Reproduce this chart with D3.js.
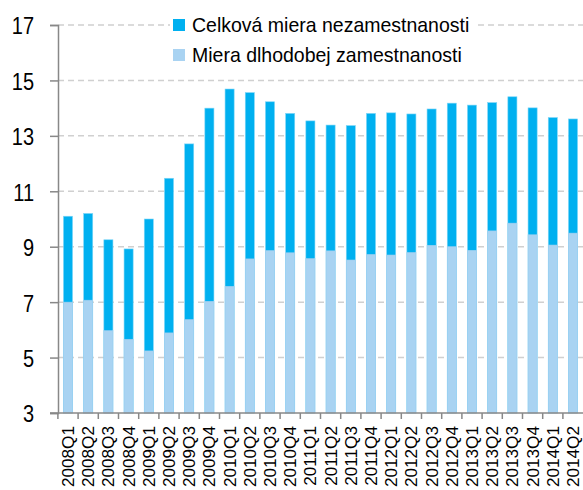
<!DOCTYPE html>
<html>
<head>
<meta charset="utf-8">
<script src="https://cdn.jsdelivr.net/npm/d3@7"></script>
<style>
  body { margin: 0; background: #fff; }
  text { font-family: "Liberation Sans", Arial, sans-serif; fill: #000; }
</style>
</head>
<body>
<script>
// chart values
var quarters = ["2008Q1","2008Q2","2008Q3","2008Q4","2009Q1","2009Q2","2009Q3","2009Q4",
  "2010Q1","2010Q2","2010Q3","2010Q4","2011Q1","2011Q2","2011Q3","2011Q4",
  "2012Q1","2012Q2","2012Q3","2012Q4","2013Q1","2013Q2","2013Q3","2013Q4",
  "2014Q1","2014Q2"];
var totalRate = [10.1, 10.2, 9.25, 8.92, 10.0, 11.47, 12.71, 14.0,
  14.69, 14.56, 14.23, 13.81, 13.54, 13.39, 13.37, 13.81,
  13.83, 13.79, 13.97, 14.18, 14.11, 14.2, 14.41, 14.01,
  13.66, 13.61];
var longTermRate = [7.0, 7.07, 5.97, 5.66, 5.24, 5.89, 6.37, 7.03,
  7.57, 8.56, 8.86, 8.78, 8.57, 8.85, 8.52, 8.72,
  8.7, 8.79, 9.05, 9.0, 8.87, 9.57, 9.85, 9.43,
  9.06, 9.49];
var yTicks = [3, 5, 7, 9, 11, 13, 15, 17];
var seriesNames = ["Celková miera nezamestnanosti", "Miera dlhodobej zamestnanosti"];
var seriesColors = ["#00b0f0", "#a9d3f2"];

var svgWidth = 583;
var svgHeight = 490;
var margin = {top: 25, right: 0, bottom: 77, left: 58};

var svg = d3.select("body")
    .append("svg")
    .attr("width", svgWidth)
    .attr("height", svgHeight);

var xScale = d3.scaleBand()
    .domain(quarters)
    .range([margin.left, svgWidth - margin.right])
    .paddingInner(0.55)
    .paddingOuter(0.27);

var yScale = d3.scaleLinear()
    .domain([3, 17])
    .range([svgHeight - margin.bottom, margin.top]);

// dashed grid lines
svg.append("g")
    .attr("class", "grid")
    .selectAll("line")
    .data(yTicks.slice(1))
    .enter()
    .append("line")
    .attr("x1", margin.left)
    .attr("x2", svgWidth)
    .attr("y1", d => yScale(d))
    .attr("y2", d => yScale(d))
    .attr("stroke", "#d0d0d0")
    .attr("stroke-width", 1.5)
    .attr("stroke-dasharray", "6,4");

// total bars behind, long-term bars in front
svg.append("g")
    .selectAll("rect")
    .data(quarters)
    .enter()
    .append("rect")
    .attr("x", d => xScale(d))
    .attr("width", xScale.bandwidth())
    .attr("y", (d, i) => yScale(totalRate[i]))
    .attr("height", (d, i) => yScale(3) - yScale(totalRate[i]))
    .attr("fill", seriesColors[0])
    .attr("stroke", "#7fd6f7")
    .attr("stroke-width", 0.6);

svg.append("g")
    .selectAll("rect")
    .data(quarters)
    .enter()
    .append("rect")
    .attr("x", d => xScale(d))
    .attr("width", xScale.bandwidth())
    .attr("y", (d, i) => yScale(longTermRate[i]))
    .attr("height", (d, i) => yScale(3) - yScale(longTermRate[i]))
    .attr("fill", seriesColors[1])
    .attr("stroke", "#9fd0f0")
    .attr("stroke-width", 0.6);

// y axis
var yAxis = d3.axisLeft(yScale).tickValues(yTicks).tickSize(8).tickPadding(16);
var yG = svg.append("g")
    .attr("transform", `translate(${margin.left},0)`)
    .call(yAxis);
yG.select(".domain").attr("stroke", "#888").attr("stroke-width", 1.5);
yG.selectAll(".tick line").attr("stroke", "#888").attr("stroke-width", 1.5);
yG.selectAll("text")
    .style("font-size", "20px")
    .attr("dy", "0.36em")
    .attr("transform", "scale(1,1.24)");

// x axis: ticks between the bars
var xG = svg.append("g")
    .attr("transform", `translate(0,${yScale(3)})`);
xG.append("line")
    .attr("x1", margin.left - 8)
    .attr("x2", svgWidth)
    .attr("stroke", "#888")
    .attr("stroke-width", 1.5);
xG.selectAll(".tk")
    .data(quarters)
    .enter()
    .append("line")
    .attr("class", "tk")
    .attr("x1", d => xScale(d) - xScale.step() * xScale.paddingInner() / 2)
    .attr("x2", d => xScale(d) - xScale.step() * xScale.paddingInner() / 2)
    .attr("y1", 0)
    .attr("y2", 6)
    .attr("stroke", "#888")
    .attr("stroke-width", 1.5);
xG.selectAll(".lbl")
    .data(quarters)
    .enter()
    .append("text")
    .attr("class", "lbl")
    .attr("transform", d => `translate(${xScale(d) + xScale.bandwidth() / 2 + 6},13) rotate(-90) scale(1.04,1)`)
    .attr("text-anchor", "end")
    .style("font-size", "16.5px")
    .text(d => d);

// legend
var legend = svg.append("g").attr("transform", "translate(170,14)");
legend.append("rect")
    .attr("width", 306)
    .attr("height", 54)
    .attr("fill", "#fff");
var items = legend.selectAll(".item")
    .data(seriesNames)
    .enter()
    .append("g")
    .attr("class", "item")
    .attr("transform", (d, i) => `translate(3,${5 + i * 30})`);
items.append("rect")
    .attr("width", 12)
    .attr("height", 12)
    .attr("fill", (d, i) => seriesColors[i]);
items.append("text")
    .attr("transform", "translate(19,13) scale(1,1.08)")
    .style("font-size", "19.5px")
    .text(d => d);
</script>
</body>
</html>
